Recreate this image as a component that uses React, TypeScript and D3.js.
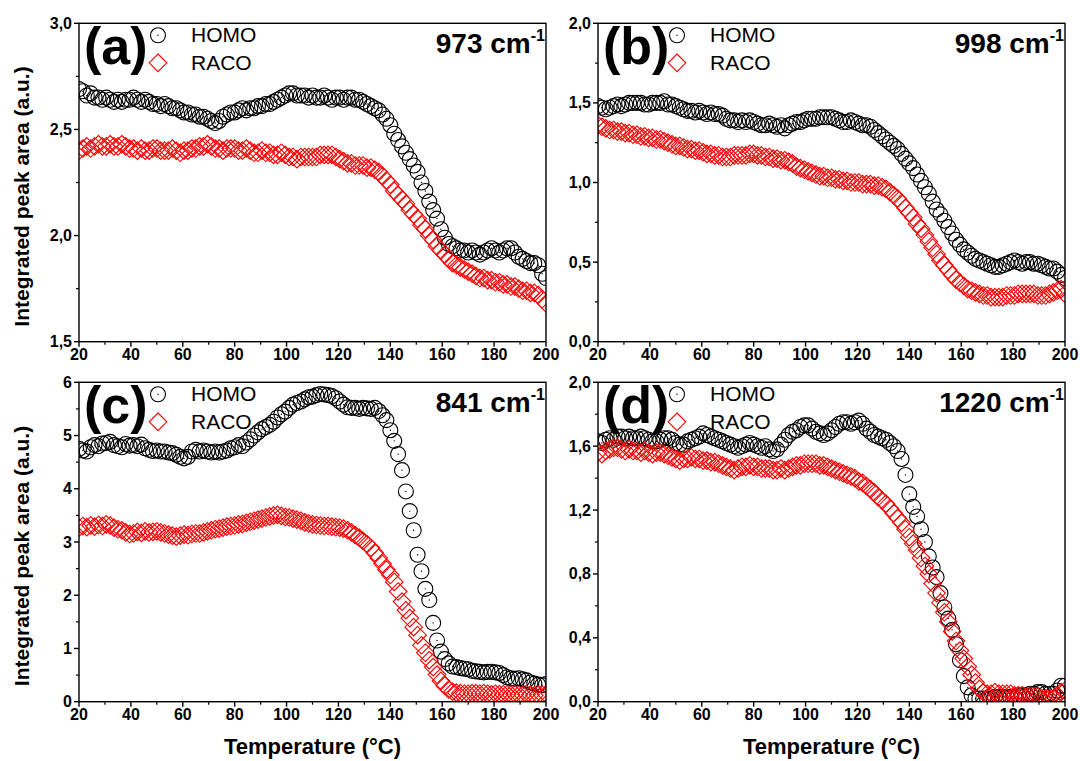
import React from "react";
import * as d3 from "d3";

// Temperature grid (°C)
const temps = [
  20, 21.5, 23, 24.5, 26, 27.5, 29, 30.5, 32, 33.5,
  35, 36.5, 38, 39.5, 41, 42.5, 44, 45.5, 47, 48.5,
  50, 51.5, 53, 54.5, 56, 57.5, 59, 60.5, 62, 63.5,
  65, 66.5, 68, 69.5, 71, 72.5, 74, 75.5, 77, 78.5,
  80, 81.5, 83, 84.5, 86, 87.5, 89, 90.5, 92, 93.5,
  95, 96.5, 98, 99.5, 101, 102.5, 104, 105.5, 107, 108.5,
  110, 111.5, 113, 114.5, 116, 117.5, 119, 120.5, 122, 123.5,
  125, 126.5, 128, 129.5, 131, 132.5, 134, 135.5, 137, 138.5,
  140, 141.5, 143, 144.5, 146, 147.5, 149, 150.5, 152, 153.5,
  155, 156.5, 158, 159.5, 161, 162.5, 164, 165.5, 167, 168.5,
  170, 171.5, 173, 174.5, 176, 177.5, 179, 180.5, 182, 183.5,
  185, 186.5, 188, 189.5, 191, 192.5, 194, 195.5, 197, 198.5,
  200,
];

// (a) 973 cm-1
const homoA = [
  2.69, 2.68, 2.66, 2.67, 2.65, 2.65, 2.64, 2.65, 2.64, 2.63,
  2.64, 2.63, 2.64, 2.64, 2.65, 2.64, 2.63, 2.64, 2.63, 2.62,
  2.62, 2.61, 2.62, 2.61, 2.60, 2.60, 2.59, 2.58, 2.58, 2.57,
  2.57, 2.56, 2.56, 2.55, 2.54, 2.53, 2.54, 2.56, 2.57, 2.58,
  2.58, 2.59, 2.60, 2.59, 2.60, 2.60, 2.61, 2.61, 2.62, 2.62,
  2.63, 2.64, 2.65, 2.66, 2.67, 2.67, 2.66, 2.66, 2.66, 2.65,
  2.66, 2.65, 2.65, 2.66, 2.65, 2.64, 2.65, 2.65, 2.64, 2.65,
  2.65, 2.64, 2.64, 2.63, 2.62, 2.61, 2.60, 2.59, 2.57, 2.55,
  2.52, 2.48, 2.45, 2.42, 2.39, 2.36, 2.33, 2.30, 2.25, 2.21,
  2.16, 2.12, 2.08, 2.03, 1.99, 1.96, 1.95, 1.94, 1.93, 1.93,
  1.92, 1.93, 1.92, 1.91, 1.92, 1.93, 1.94, 1.93, 1.92, 1.93,
  1.94, 1.94, 1.92, 1.90, 1.89, 1.88, 1.87, 1.87, 1.86, 1.82,
  1.80,
];
const racoA = [
  2.40, 2.41, 2.42, 2.41, 2.42, 2.43, 2.42, 2.42, 2.43, 2.42,
  2.42, 2.43, 2.42, 2.41, 2.41, 2.40, 2.41, 2.40, 2.40, 2.41,
  2.41, 2.40, 2.40, 2.40, 2.41, 2.40, 2.39, 2.40, 2.40, 2.41,
  2.41, 2.42, 2.42, 2.43, 2.42, 2.41, 2.41, 2.40, 2.41, 2.41,
  2.41, 2.40, 2.40, 2.41, 2.40, 2.39, 2.39, 2.40, 2.39, 2.39,
  2.38, 2.38, 2.39, 2.38, 2.37, 2.37, 2.36, 2.37, 2.37, 2.37,
  2.37, 2.37, 2.38, 2.38, 2.38, 2.38, 2.37, 2.36, 2.35, 2.34,
  2.34, 2.33, 2.33, 2.33, 2.32, 2.32, 2.31, 2.30, 2.28, 2.26,
  2.24, 2.21, 2.19, 2.17, 2.15, 2.12, 2.10, 2.08, 2.05, 2.03,
  2.00, 1.98, 1.95, 1.93, 1.91, 1.89, 1.87, 1.86, 1.85, 1.84,
  1.83, 1.82, 1.81, 1.80, 1.80, 1.79, 1.79, 1.78, 1.78, 1.77,
  1.77, 1.76, 1.76, 1.75, 1.74, 1.74, 1.73, 1.73, 1.72, 1.70,
  1.68,
];

// (b) 998 cm-1
const homoB = [
  1.48, 1.47, 1.46, 1.47, 1.48, 1.49, 1.48, 1.49, 1.50, 1.50,
  1.50, 1.50, 1.49, 1.49, 1.50, 1.50, 1.50, 1.51, 1.49, 1.49,
  1.48, 1.47, 1.46, 1.45, 1.45, 1.44, 1.45, 1.44, 1.43, 1.44,
  1.43, 1.43, 1.42, 1.40, 1.39, 1.39, 1.38, 1.39, 1.38, 1.39,
  1.38, 1.37, 1.36, 1.36, 1.37, 1.36, 1.35, 1.36, 1.34, 1.36,
  1.37, 1.38, 1.38, 1.39, 1.40, 1.40, 1.40, 1.41, 1.41, 1.41,
  1.41, 1.40, 1.39, 1.38, 1.38, 1.39, 1.38, 1.37, 1.36, 1.36,
  1.35, 1.33, 1.31, 1.29, 1.27, 1.25, 1.23, 1.21, 1.18, 1.15,
  1.12, 1.09, 1.05, 1.01, 0.97, 0.93, 0.88, 0.83, 0.80, 0.76,
  0.72, 0.68, 0.64, 0.61, 0.58, 0.56, 0.54, 0.52, 0.51, 0.50,
  0.49, 0.48, 0.47, 0.47, 0.48, 0.49, 0.50, 0.51, 0.50, 0.49,
  0.50, 0.50, 0.49, 0.49, 0.48, 0.47, 0.46, 0.46, 0.44, 0.42,
  0.40,
];
const racoB = [
  1.36, 1.35, 1.34, 1.33, 1.33, 1.32, 1.32, 1.31, 1.31, 1.30,
  1.30, 1.29, 1.29, 1.28, 1.28, 1.27, 1.27, 1.26, 1.25, 1.24,
  1.23, 1.23, 1.22, 1.21, 1.21, 1.20, 1.20, 1.19, 1.18, 1.18,
  1.17, 1.17, 1.16, 1.16, 1.16, 1.17, 1.17, 1.17, 1.17, 1.18,
  1.18, 1.17, 1.17, 1.16, 1.16, 1.15, 1.15, 1.14, 1.14, 1.13,
  1.12, 1.10, 1.09, 1.08, 1.07, 1.06, 1.05, 1.04, 1.04, 1.03,
  1.03, 1.02, 1.02, 1.01, 1.01, 1.00, 1.00, 1.00, 0.99, 0.99,
  0.99, 0.98, 0.98, 0.97, 0.96, 0.94, 0.92, 0.90, 0.87, 0.84,
  0.81, 0.78, 0.74, 0.71, 0.67, 0.63, 0.59, 0.55, 0.51, 0.48,
  0.45, 0.42, 0.39, 0.37, 0.35, 0.33, 0.32, 0.31, 0.30, 0.29,
  0.29, 0.28, 0.28, 0.28, 0.28, 0.29, 0.29, 0.29, 0.30, 0.30,
  0.30, 0.30, 0.30, 0.29, 0.29, 0.29, 0.30, 0.31, 0.32, 0.33,
  0.30,
];

// (c) 841 cm-1
const homoC = [
  4.75, 4.72, 4.70, 4.78, 4.82, 4.80, 4.85, 4.86, 4.88, 4.82,
  4.80, 4.78, 4.84, 4.81, 4.82, 4.80, 4.83, 4.76, 4.73, 4.71,
  4.72, 4.70, 4.70, 4.68, 4.67, 4.64, 4.60, 4.57, 4.60, 4.70,
  4.73, 4.70, 4.72, 4.70, 4.68, 4.70, 4.68, 4.70, 4.72, 4.76,
  4.78, 4.82, 4.80, 4.87, 4.93, 5.00, 5.06, 5.12, 5.16, 5.20,
  5.26, 5.34, 5.40, 5.45, 5.52, 5.58, 5.61, 5.64, 5.68, 5.72,
  5.73, 5.76, 5.78, 5.77, 5.76, 5.74, 5.70, 5.64, 5.58, 5.53,
  5.52, 5.52, 5.50, 5.52, 5.51, 5.50, 5.52, 5.46, 5.38, 5.29,
  5.10, 4.90, 4.65, 4.35, 3.95, 3.58, 3.22, 2.76, 2.45, 2.12,
  1.91, 1.48, 1.15, 0.94, 0.80, 0.72, 0.66, 0.65, 0.63, 0.62,
  0.61, 0.58, 0.57, 0.56, 0.55, 0.56, 0.56, 0.55, 0.54, 0.50,
  0.46, 0.44, 0.43, 0.44, 0.42, 0.40, 0.36, 0.34, 0.32, 0.31,
  0.33,
];
const racoC = [
  3.27, 3.30, 3.28, 3.31, 3.29, 3.32, 3.30, 3.33, 3.31, 3.27,
  3.24, 3.22, 3.18, 3.15, 3.16, 3.19, 3.17, 3.20, 3.18, 3.19,
  3.20, 3.18, 3.16, 3.14, 3.12, 3.10, 3.12, 3.14, 3.13, 3.15,
  3.16, 3.16, 3.18, 3.20, 3.22, 3.24, 3.25, 3.27, 3.29, 3.30,
  3.31, 3.33, 3.34, 3.36, 3.38, 3.40, 3.42, 3.44, 3.46, 3.48,
  3.50, 3.51, 3.49, 3.47, 3.46, 3.44, 3.42, 3.40, 3.37, 3.35,
  3.33, 3.32, 3.31, 3.30, 3.30, 3.29, 3.28, 3.27, 3.25, 3.22,
  3.18, 3.13, 3.08, 3.02, 2.96, 2.89, 2.80, 2.70, 2.59, 2.48,
  2.38, 2.25, 2.07, 1.88, 1.72, 1.57, 1.40, 1.25, 1.06, 0.92,
  0.78, 0.65, 0.51, 0.39, 0.30, 0.23, 0.19, 0.17, 0.16, 0.15,
  0.15, 0.16, 0.16, 0.15, 0.16, 0.15, 0.14, 0.15, 0.14, 0.14,
  0.14, 0.13, 0.14, 0.13, 0.13, 0.14, 0.13, 0.12, 0.13, 0.13,
  0.14,
];

// (d) 1220 cm-1
const homoD = [
  1.63, 1.62, 1.64, 1.65, 1.64, 1.66, 1.66, 1.65, 1.66, 1.65,
  1.65, 1.66, 1.65, 1.64, 1.63, 1.63, 1.64, 1.65, 1.65, 1.64,
  1.62, 1.61, 1.61, 1.63, 1.64, 1.65, 1.66, 1.68, 1.67, 1.66,
  1.65, 1.64, 1.63, 1.62, 1.61, 1.60, 1.59, 1.60, 1.61, 1.62,
  1.61, 1.60, 1.59, 1.60, 1.58, 1.57, 1.58, 1.61, 1.64, 1.67,
  1.69, 1.70, 1.72, 1.73, 1.73, 1.71, 1.69, 1.68, 1.67, 1.68,
  1.70, 1.72, 1.74, 1.75, 1.75, 1.74, 1.75, 1.76, 1.74, 1.71,
  1.69, 1.67, 1.66, 1.65, 1.64, 1.62, 1.60, 1.57, 1.52, 1.42,
  1.30, 1.22, 1.16, 1.08, 1.00, 0.91, 0.84, 0.78, 0.68, 0.59,
  0.52, 0.45, 0.36, 0.26, 0.16, 0.09, 0.04, 0.02, 0.02, 0.02,
  0.02, 0.02, 0.03, 0.03, 0.03, 0.03, 0.03, 0.03, 0.04, 0.04,
  0.04, 0.05, 0.05, 0.06, 0.06, 0.05, 0.05, 0.05, 0.07, 0.10,
  0.10,
];
const racoD = [
  1.56, 1.55, 1.57, 1.58, 1.59, 1.59, 1.58, 1.57, 1.58, 1.57,
  1.57, 1.56, 1.57, 1.56, 1.55, 1.56, 1.56, 1.55, 1.54, 1.53,
  1.52, 1.51, 1.52, 1.52, 1.53, 1.52, 1.52, 1.51, 1.51, 1.50,
  1.50, 1.49, 1.48, 1.47, 1.46, 1.45, 1.46, 1.47, 1.47, 1.48,
  1.47, 1.47, 1.46, 1.46, 1.46, 1.45, 1.45, 1.46, 1.45, 1.46,
  1.47, 1.48, 1.48, 1.49, 1.49, 1.49, 1.49, 1.48, 1.48, 1.47,
  1.46, 1.45, 1.44, 1.43, 1.42, 1.41, 1.40, 1.38, 1.37, 1.35,
  1.33, 1.31, 1.28, 1.26, 1.24, 1.21, 1.18, 1.15, 1.12, 1.08,
  1.03, 0.99, 0.95, 0.90, 0.85, 0.80, 0.74, 0.68, 0.62, 0.56,
  0.50, 0.44, 0.38, 0.32, 0.27, 0.22, 0.17, 0.12, 0.08, 0.06,
  0.05, 0.05, 0.06, 0.05, 0.05, 0.05, 0.05, 0.04, 0.04, 0.04,
  0.03, 0.03, 0.03, 0.03, 0.02, 0.02, 0.02, 0.02, 0.04, 0.06,
  0.07,
];

const xMajor = [20, 40, 60, 80, 100, 120, 140, 160, 180, 200];
const xMinor = [30, 50, 70, 90, 110, 130, 150, 170, 190];

const seriesNames = ["HOMO", "RACO"];
const panelLetters = ["(a)", "(b)", "(c)", "(d)"];
const wavenumbers = ["973", "998", "841", "1220"];
const yTitle = "Integrated peak area (a.u.)";
const xTitle = "Temperature (°C)";

const yMajorA = [1.5, 2.0, 2.5, 3.0];
const yMinorA = [1.75, 2.25, 2.75];
const yMajorB = [0, 0.5, 1.0, 1.5, 2.0];
const yMinorB = [0.25, 0.75, 1.25, 1.75];
const yMajorC = [0, 1, 2, 3, 4, 5, 6];
const yMinorC = [0.5, 1.5, 2.5, 3.5, 4.5, 5.5];
const yMajorD = [0, 0.4, 0.8, 1.2, 1.6, 2.0];
const yMinorD = [0.2, 0.6, 1.0, 1.4, 1.8];

const FONT = "'Liberation Sans', Arial, Helvetica, sans-serif";
const comma1 = (v: number) => v.toFixed(1).replace(".", ",");
const intFmt = (v: number) => String(v);

const LEFT = { x0: 79, x1: 546 };
const RIGHT = { x0: 598, x1: 1065 };
const TOP = { y0: 23.3, y1: 341.7 };
const BOTTOM = { y0: 382.3, y1: 701.7 };

const panels = [
  { id: "a", letter: panelLetters[0], wn: wavenumbers[0], homo: homoA, raco: racoA, yDomain: [1.5, 3.0], yMajor: yMajorA, yMinor: yMinorA, fmt: comma1, ...LEFT, ...TOP, showY: true, showX: false },
  { id: "b", letter: panelLetters[1], wn: wavenumbers[1], homo: homoB, raco: racoB, yDomain: [0, 2.0], yMajor: yMajorB, yMinor: yMinorB, fmt: comma1, ...RIGHT, ...TOP, showY: false, showX: false },
  { id: "c", letter: panelLetters[2], wn: wavenumbers[2], homo: homoC, raco: racoC, yDomain: [0, 6], yMajor: yMajorC, yMinor: yMinorC, fmt: intFmt, ...LEFT, ...BOTTOM, showY: true, showX: true },
  { id: "d", letter: panelLetters[3], wn: wavenumbers[3], homo: homoD, raco: racoD, yDomain: [0, 2.0], yMajor: yMajorD, yMinor: yMinorD, fmt: comma1, ...RIGHT, ...BOTTOM, showY: false, showX: true },
];

const R = 7.5; // circle radius
const H = 8.8; // diamond half-diagonal

function diamondPath(cx: number, cy: number, h: number) {
  return `M${cx},${cy - h}L${cx + h},${cy}L${cx},${cy + h}L${cx - h},${cy}Z`;
}

function Panel({ p }: { p: (typeof panels)[number] }) {
  const x = d3.scaleLinear().domain([20, 200]).range([p.x0, p.x1]);
  const y = d3.scaleLinear().domain(p.yDomain).range([p.y1, p.y0]);
  const clipId = `clip-${p.id}`;
  const cy = (p.y0 + p.y1) / 2;
  const cx = (p.x0 + p.x1) / 2;
  const lx = p.x0 + 79;
  return (
    <g>
      <defs>
        <clipPath id={clipId}>
          <rect x={p.x0} y={p.y0} width={p.x1 - p.x0} height={p.y1 - p.y0} />
        </clipPath>
      </defs>
      <g clipPath={`url(#${clipId})`}>
        {temps.map((t, i) => (
          <g key={`h${i}`}>
            <circle cx={x(t)} cy={y(p.homo[i])} r={R} fill="none" stroke="#000" strokeWidth={1.1} />
            <circle cx={x(t)} cy={y(p.homo[i])} r={0.7} fill="#000" />
          </g>
        ))}
        {temps.map((t, i) => (
          <path key={`r${i}`} d={diamondPath(x(t), y(p.raco[i]), H)} fill="none" stroke="#ff0000" strokeWidth={1.1} />
        ))}
      </g>
      <rect x={p.x0} y={p.y0} width={p.x1 - p.x0} height={p.y1 - p.y0} fill="none" stroke="#000" strokeWidth={1.4} />
      {xMajor.map((t) => (
        <g key={`xm${t}`}>
          <line x1={x(t)} x2={x(t)} y1={p.y1} y2={p.y1 + 5} stroke="#000" strokeWidth={1.4} />
          <text x={x(t)} y={p.y1 + 18} textAnchor="middle" fontFamily={FONT} fontWeight="bold" fontSize={16} fill="#000">{t}</text>
        </g>
      ))}
      {xMinor.map((t) => (
        <line key={`xn${t}`} x1={x(t)} x2={x(t)} y1={p.y1} y2={p.y1 + 3} stroke="#000" strokeWidth={1.2} />
      ))}
      {p.yMajor.map((v) => (
        <g key={`ym${v}`}>
          <line x1={p.x0 - 5} x2={p.x0} y1={y(v)} y2={y(v)} stroke="#000" strokeWidth={1.4} />
          <text x={p.x0 - 7} y={y(v) + 5.5} textAnchor="end" fontFamily={FONT} fontWeight="bold" fontSize={16} fill="#000">{p.fmt(v)}</text>
        </g>
      ))}
      {p.yMinor.map((v) => (
        <line key={`yn${v}`} x1={p.x0 - 3} x2={p.x0} y1={y(v)} y2={y(v)} stroke="#000" strokeWidth={1.2} />
      ))}
      <text x={p.x0 + 5} y={p.y0 + 41} fontFamily={FONT} fontWeight="bold" fontSize={52} fill="#000">{p.letter}</text>
      <circle cx={lx} cy={p.y0 + 12} r={R} fill="none" stroke="#000" strokeWidth={1.1} />
      <circle cx={lx} cy={p.y0 + 12} r={0.7} fill="#000" />
      <text x={lx + 33} y={p.y0 + 19} fontFamily={FONT} fontSize={21} fill="#000">{seriesNames[0]}</text>
      <path d={diamondPath(lx, p.y0 + 39.5, H)} fill="none" stroke="#ff0000" strokeWidth={1.1} />
      <text x={lx + 33} y={p.y0 + 47} fontFamily={FONT} fontSize={21} fill="#000">{seriesNames[1]}</text>
      <text x={p.x1 - 1} y={p.y0 + 30} textAnchor="end" fontFamily={FONT} fontWeight="bold" fontSize={28} fill="#000">
        {p.wn} cm<tspan dy={-12} fontSize={16}>-1</tspan>
      </text>
      {p.showY && (
        <text transform={`translate(29,${cy + 14}) rotate(-90)`} textAnchor="middle" fontFamily={FONT} fontWeight="bold" fontSize={21} fill="#000">{yTitle}</text>
      )}
      {p.showX && (
        <text x={cx} y={754} textAnchor="middle" fontFamily={FONT} fontWeight="bold" fontSize={22} fill="#000">{xTitle}</text>
      )}
    </g>
  );
}

export default function App() {
  return (
    <svg width={1080} height={761} viewBox="0 0 1080 761" style={{ position: "absolute", left: 0, top: 0, background: "#fff" }}>
      <rect x={0} y={0} width={1080} height={761} fill="#fff" />
      {panels.map((p) => (
        <Panel key={p.id} p={p} />
      ))}
    </svg>
  );
}
